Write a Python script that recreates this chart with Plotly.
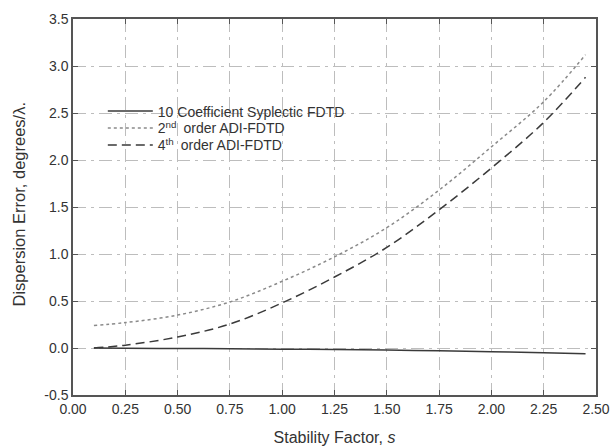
import plotly.graph_objects as go

s_vals = [0.10, 0.25, 0.50, 0.75, 1.00, 1.25, 1.50, 1.75, 2.00, 2.25, 2.45]
sym_fdtd = [0.000, -0.002, -0.005, -0.008, -0.012, -0.016, -0.022, -0.030, -0.039, -0.050, -0.060]
adi2 = [0.24, 0.27, 0.35, 0.49, 0.71, 0.97, 1.28, 1.68, 2.14, 2.62, 3.12]
adi4 = [0.00, 0.03, 0.117, 0.255, 0.48, 0.755, 1.07, 1.47, 1.915, 2.40, 2.88]

names = ["10 Coefficient Syplectic FDTD",
         "2<sup>nd</sup>\u2002order ADI-FDTD",
         "4<sup>th</sup>\u2002order ADI-FDTD"]

x_ticks = [0.0, 0.25, 0.5, 0.75, 1.0, 1.25, 1.5, 1.75, 2.0, 2.25, 2.5]
x_labels = ["0.00", "0.25", "0.50", "0.75", "1.00", "1.25", "1.50", "1.75", "2.00", "2.25", "2.50"]
y_ticks = [-0.5, 0.0, 0.5, 1.0, 1.5, 2.0, 2.5, 3.0, 3.5]
y_labels = ["-0.5", "0.0", "0.5", "1.0", "1.5", "2.0", "2.5", "3.0", "3.5"]

x_title = "Stability Factor, <i>s</i>"
y_title = "Dispersion Error, degrees/λ."

FONT = "Liberation Sans, Arial"
TXT = "#333333"

fig = go.Figure()
fig.add_trace(go.Scatter(x=s_vals, y=sym_fdtd, mode="lines", name=names[0], legend="legend",
                         line=dict(color="#3a3a3a", width=1.5, shape="spline")))
fig.add_trace(go.Scatter(x=s_vals, y=adi2, mode="lines", name=names[1], legend="legend2",
                         line=dict(color="#8a8a8a", width=1.5, dash="dot", shape="spline")))
fig.add_trace(go.Scatter(x=s_vals, y=adi4, mode="lines", name=names[2], legend="legend3",
                         line=dict(color="#3a3a3a", width=1.5, dash="9px,5px", shape="spline")))

axis_common = dict(
    showline=True, linecolor="#555555", linewidth=1.5, mirror="ticks",
    ticks="inside", ticklen=5, tickcolor="#555555", tickwidth=1,
    showgrid=True, gridcolor="#bdbdbd", gridwidth=1, griddash="13px,5px,3px,5px",
    zeroline=False, automargin=False,
    tickfont=dict(family=FONT, size=14, color=TXT),
)

fig.update_xaxes(range=[0, 2.5], tickvals=x_ticks, ticktext=x_labels,
                 title=dict(text=x_title,
                            font=dict(family=FONT, size=16, color=TXT), standoff=16),
                 **axis_common)
fig.update_yaxes(range=[-0.5, 3.5], tickvals=y_ticks, ticktext=y_labels, **axis_common)

fig.add_annotation(text=y_title, xref="paper", yref="paper", x=-0.1042, y=0.508,
                   xanchor="center", yanchor="middle", textangle=-90, showarrow=False,
                   font=dict(family=FONT, size=16.5, color=TXT))

leg_common = dict(xanchor="left", yanchor="middle", bgcolor="rgba(0,0,0,0)", borderwidth=0,
                  font=dict(family=FONT, size=14, color=TXT), itemwidth=45)

fig.update_layout(
    width=612, height=447,
    margin=dict(l=73, r=16, t=19, b=52),
    paper_bgcolor="white", plot_bgcolor="white",
    showlegend=True,
    legend=dict(x=0.057, y=0.754, **leg_common),
    legend2=dict(x=0.057, y=0.709, **leg_common),
    legend3=dict(x=0.057, y=0.664, **leg_common),
)

fig.write_html("out.html", config={"displayModeBar": False},
               post_script="document.body.style.margin='0';document.body.style.overflow='hidden';")
